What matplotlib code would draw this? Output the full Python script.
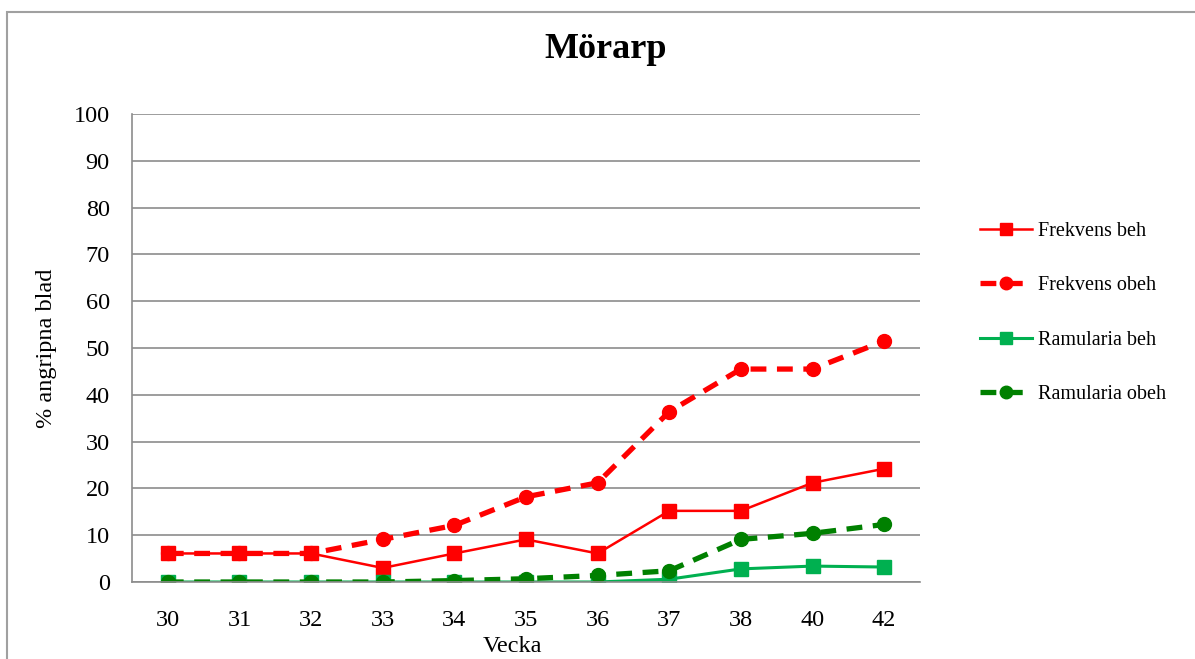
import matplotlib
matplotlib.use('Agg')
import matplotlib.pyplot as plt
from matplotlib.patches import Rectangle
import numpy as np

plt.rcParams['font.family'] = ['Liberation Serif', 'DejaVu Serif']

veckor = ['30', '31', '32', '33', '34', '35', '36', '37', '38', '40', '42']
frekvens_beh = [6.1, 6.1, 6.1, 3.0, 6.1, 9.1, 6.1, 15.2, 15.2, 21.2, 24.2]
frekvens_obeh = [6.1, 6.1, 6.1, 9.1, 12.1, 18.2, 21.2, 36.4, 45.5, 45.5, 51.5]
ramularia_beh = [0.0, 0.0, 0.0, 0.0, 0.0, 0.0, 0.0, 0.6, 2.8, 3.4, 3.2]
ramularia_obeh = [0.0, 0.0, 0.0, 0.0, 0.3, 0.7, 1.4, 2.4, 9.1, 10.4, 12.3]

x = np.arange(len(veckor))

fig = plt.figure(figsize=(11.95, 6.59), dpi=100)
ax = fig.add_axes([132 / 1195, 1 - 582 / 659, 788 / 1195, 468 / 659])

# ram runt diagrammet (bara vänster och överkant syns)
fig.patches.append(Rectangle((7 / 1195, -0.1), 1.2, 1 - 12 / 659 + 0.1,
                             transform=fig.transFigure, fill=False,
                             edgecolor='#a0a0a0', linewidth=1.5))

ax.plot(x, frekvens_beh, color='#ff0000', lw=1.8, marker='s', ms=10,
        label='Frekvens beh')
ax.plot(x, frekvens_obeh, color='#ff0000', lw=3.8, ls=(0, (3, 2)), marker='o',
        ms=10, label='Frekvens obeh')
ax.plot(x, ramularia_beh, color='#00b050', lw=2.2, marker='s', ms=10,
        label='Ramularia beh')
ax.plot(x, ramularia_obeh, color='#008000', lw=3.8, ls=(0, (3, 2)), marker='o',
        ms=10, label='Ramularia obeh')

ax.set_xlim(-0.5, len(veckor) - 0.5)
ax.set_ylim(0, 100)
ax.set_xticks(x)
ax.set_xticklabels(veckor)
ax.set_yticks(np.arange(0, 101, 10))
ax.tick_params(length=0, labelsize=17.5)
ax.tick_params(axis='x', pad=20)
ax.tick_params(axis='y', pad=16)
ax.yaxis.grid(True, color='#8c8c8c', lw=1.2)
ax.set_axisbelow(True)
for s in ['top', 'right']:
    ax.spines[s].set_visible(False)
for s in ['left', 'bottom']:
    ax.spines[s].set_color('#8c8c8c')
    ax.spines[s].set_linewidth(1.2)

ax.set_ylabel('% angripna blad', fontsize=17.5, labelpad=12)
fig.text(512 / 1195, 1 - 646 / 659, 'Vecka', fontsize=17.5, ha='center', va='center')
fig.text(606 / 1195, 1 - 50 / 659, 'Mörarp', fontsize=26, fontweight='bold',
         ha='center', va='center')

fig.legend(loc='center left', bbox_to_anchor=(962 / 1195, 1 - 313 / 659),
           frameon=False, fontsize=14.5, handlelength=2.6, labelspacing=1.75,
           handletextpad=0.25, markerscale=0.9)

plt.savefig('out.png', dpi=100)
